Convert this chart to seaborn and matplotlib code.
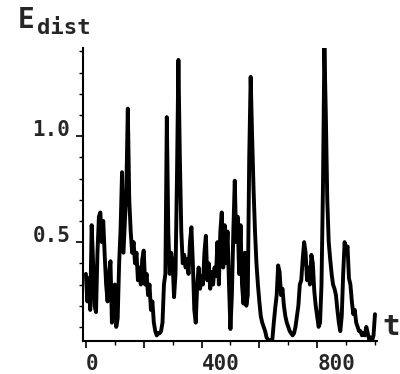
import numpy as np
import pandas as pd
import seaborn as sns
import matplotlib.pyplot as plt
from matplotlib.ticker import MultipleLocator

# time axis, one sample every 5 units
t = np.arange(0, 1001, 5)

# E_dist, 10 samples per row (50 time units)
e_dist = [
    0.35, 0.22, 0.33, 0.18, 0.58, 0.40, 0.20, 0.17, 0.45, 0.62,
    0.64, 0.50, 0.60, 0.44, 0.30, 0.22, 0.35, 0.41, 0.12, 0.25,
    0.30, 0.10, 0.14, 0.40, 0.56, 0.83, 0.45, 0.60, 0.75, 1.13,
    0.70, 0.55, 0.45, 0.50, 0.40, 0.45, 0.32, 0.38, 0.30, 0.42,
    0.46, 0.30, 0.35, 0.25, 0.30, 0.18, 0.22, 0.12, 0.08, 0.06,
    0.07, 0.07, 0.08, 0.12, 0.30, 0.35, 1.09, 0.55, 0.35, 0.45,
    0.40, 0.24, 0.35, 0.80, 1.36, 0.90, 0.55, 0.40, 0.44, 0.38,
    0.42, 0.35, 0.50, 0.57, 0.40, 0.18, 0.12, 0.30, 0.38, 0.28,
    0.34, 0.30, 0.45, 0.53, 0.32, 0.40, 0.28, 0.36, 0.30, 0.38,
    0.34, 0.50, 0.30, 0.55, 0.64, 0.38, 0.58, 0.40, 0.55, 0.30,
    0.09, 0.25, 0.55, 0.79, 0.50, 0.62, 0.35, 0.58, 0.30, 0.21,
    0.45, 0.20, 0.25, 0.90, 1.28, 1.00, 0.75, 0.55, 0.40, 0.30,
    0.22, 0.15, 0.12, 0.10, 0.08, 0.05, 0.04, 0.035, 0.035, 0.04,
    0.12, 0.19, 0.25, 0.39, 0.36, 0.25, 0.28, 0.20, 0.15, 0.12,
    0.10, 0.08, 0.07, 0.06, 0.07, 0.10, 0.15, 0.20, 0.30, 0.32,
    0.42, 0.50, 0.45, 0.32, 0.38, 0.30, 0.44, 0.40, 0.27, 0.20,
    0.15, 0.10, 0.12, 0.30, 0.75, 1.42, 1.10, 0.70, 0.50, 0.42,
    0.35, 0.30, 0.28, 0.25, 0.18, 0.12, 0.08, 0.15, 0.35, 0.50,
    0.45, 0.48, 0.33, 0.30, 0.22, 0.16, 0.18, 0.12, 0.10, 0.08,
    0.08, 0.06, 0.07, 0.06, 0.10, 0.07, 0.04, 0.05, 0.035, 0.06,
    0.16,
]

x_ticks = [0, 200, 400, 600, 800]
x_labels = ['0', '', '400', '', '800']
y_ticks = [0.5, 1.0]
y_labels = ['0.5', '1.0']

df = pd.DataFrame({'t': t, 'E': e_dist})

sns.set_style('ticks')
plt.rcParams['font.family'] = ['DejaVu Sans Mono', 'DejaVu Sans']
plt.rcParams['font.weight'] = 'bold'

fig = plt.figure(figsize=(4, 3.74), dpi=100)
ax = fig.add_axes([0.2075, 0.088, 0.735, 0.783])

sns.lineplot(data=df, x='t', y='E', color='black', linewidth=2.8, ax=ax)

ax.set_xlim(-10, 1007)
ax.set_ylim(0.033, 1.415)
ax.set_xlabel('')
ax.set_ylabel('')
sns.despine(ax=ax)
for side in ['left', 'bottom']:
    ax.spines[side].set_linewidth(1.5)
    ax.spines[side].set_color('black')

ax.set_xticks(x_ticks)
ax.set_xticklabels(x_labels, fontsize=15, fontweight='bold', ha='left')
ax.xaxis.set_minor_locator(MultipleLocator(100))
ax.set_yticks(y_ticks)
ax.set_yticklabels(y_labels, fontsize=15, fontweight='bold', va='baseline')
ax.yaxis.set_minor_locator(MultipleLocator(0.1))
ax.tick_params(which='major', length=5, width=1.2, color='black', pad=4)
ax.tick_params(which='minor', length=3, width=1.0, color='black')

fig.text(0.045, 0.925, 'E', fontsize=20, fontweight='bold', ha='left', va='baseline')
fig.text(0.092, 0.909, 'dist', fontsize=16, fontweight='bold', ha='left', va='baseline')
fig.text(0.955, 0.104, 't', fontsize=21, fontweight='bold', ha='left', va='baseline')

fig.savefig('out.png', dpi=100, facecolor='white')
